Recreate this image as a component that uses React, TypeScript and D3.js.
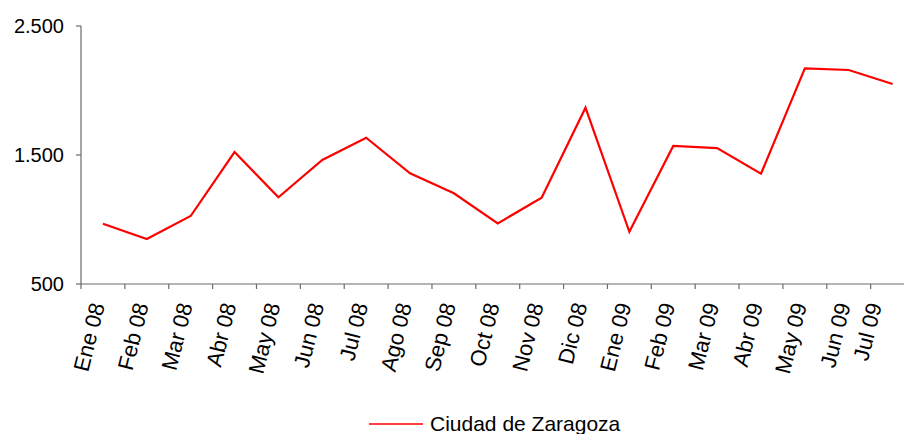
import React, { useEffect, useRef } from "react";
import * as d3 from "d3";

const months = [
  "Ene 08", "Feb 08", "Mar 08", "Abr 08", "May 08", "Jun 08", "Jul 08",
  "Ago 08", "Sep 08", "Oct 08", "Nov 08", "Dic 08", "Ene 09", "Feb 09",
  "Mar 09", "Abr 09", "May 09", "Jun 09", "Jul 09",
];

const zaragoza = [
  967, 849, 1027, 1523, 1172, 1461, 1634, 1358, 1203, 970, 1169, 1867, 905,
  1570, 1554, 1355, 2172, 2159, 2050,
];

const yTicks = [500, 1500, 2500];
const seriesName = "Ciudad de Zaragoza";

const App: React.FC = () => {
  const chartRef = useRef<SVGSVGElement>(null);

  useEffect(() => {
    const width = 904;
    const height = 434;
    const left = 81;
    const bandW = 43.87;
    const top = 26;
    const bottom = 284;
    const font = "Arial, 'Liberation Sans', sans-serif";
    const axisColor = "#6b6b6b";

    const svg = d3.select(chartRef.current);
    svg.selectAll("*").remove();
    svg.attr("width", width).attr("height", height);

    const x = d3
      .scaleBand<string>()
      .domain(months)
      .range([left, left + bandW * months.length]);

    const y = d3.scaleLinear().domain([500, 2500]).range([bottom, top]);

    // y axis
    svg
      .append("line")
      .attr("x1", left)
      .attr("x2", left)
      .attr("y1", top)
      .attr("y2", bottom)
      .attr("stroke", axisColor)
      .attr("stroke-width", 1.2);

    svg
      .selectAll(".ytick")
      .data(yTicks)
      .enter()
      .append("line")
      .attr("x1", left - 5)
      .attr("x2", left)
      .attr("y1", (d) => y(d))
      .attr("y2", (d) => y(d))
      .attr("stroke", axisColor)
      .attr("stroke-width", 1.2);

    svg
      .selectAll(".ylabel")
      .data(yTicks)
      .enter()
      .append("text")
      .attr("x", left - 17)
      .attr("y", (d) => y(d))
      .attr("dy", "0.36em")
      .attr("text-anchor", "end")
      .style("font-family", font)
      .style("font-size", "20px")
      .style("fill", "#000")
      .text((d) => d3.format(",")(d).replace(",", "."));

    // x axis
    svg
      .append("line")
      .attr("x1", left)
      .attr("x2", width)
      .attr("y1", bottom)
      .attr("y2", bottom)
      .attr("stroke", axisColor)
      .attr("stroke-width", 1.2);

    svg
      .selectAll(".xtick")
      .data(months)
      .enter()
      .append("line")
      .attr("x1", (d) => x(d) as number)
      .attr("x2", (d) => x(d) as number)
      .attr("y1", bottom)
      .attr("y2", bottom + 5)
      .attr("stroke", axisColor)
      .attr("stroke-width", 1.2);

    // labels kept inside the frame, like the last one in the original
    svg
      .selectAll(".xlabel")
      .data(months)
      .enter()
      .append("text")
      .attr("transform", (d) => {
        const cx = Math.min((x(d) as number) + x.bandwidth() / 2 + 2, width - 22);
        return `translate(${cx},${bottom + 21}) rotate(-76)`;
      })
      .attr("text-anchor", "end")
      .style("font-family", font)
      .style("font-size", "22px")
      .style("fill", "#000")
      .text((d) => d);

    // series line
    const line = d3
      .line<number>()
      .x((_, i) => (x(months[i]) as number) + x.bandwidth() / 2)
      .y((d) => y(d));

    svg
      .append("path")
      .datum(zaragoza)
      .attr("d", line)
      .attr("fill", "none")
      .attr("stroke", "#ff0000")
      .attr("stroke-width", 2.2)
      .attr("stroke-linejoin", "miter");

    // legend
    const lg = svg.append("g").attr("transform", "translate(369,424)");
    lg.append("line")
      .attr("x1", 0)
      .attr("x2", 54)
      .attr("y1", 0)
      .attr("y2", 0)
      .attr("stroke", "#ff0000")
      .attr("stroke-width", 1.5);
    lg.append("text")
      .attr("x", 61)
      .attr("y", 7)
      .style("font-family", font)
      .style("font-size", "21px")
      .style("fill", "#000")
      .text(seriesName);
  }, []);

  return (
    <svg
      ref={chartRef}
      style={{ position: "absolute", left: 0, top: 0, background: "#fff" }}
    ></svg>
  );
};

export default App;
